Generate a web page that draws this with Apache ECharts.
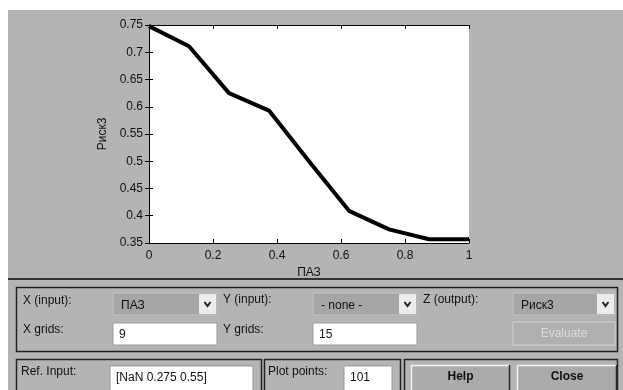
<!DOCTYPE html>
<html>
<head>
<meta charset="utf-8">
<script src="https://cdn.jsdelivr.net/npm/echarts@6/dist/echarts.min.js"></script>
<style>
  html, body { margin: 0; padding: 0; background: #fff; }
  #bg { position: absolute; left: 8px; top: 10px; width: 615px; height: 380px; background: #b4b4b4; }
  #chart { position: absolute; left: 0; top: 0; width: 623px; height: 390px; }
</style>
</head>
<body>
<div id="bg"></div>
<div id="chart"></div>
<script>
// surface viewer: one input (ПАЗ) against the output (Риск3), 9 grid points
const xValues = [0, 0.125, 0.25, 0.375, 0.5, 0.625, 0.75, 0.875, 1];
const riskValues = [0.748, 0.711, 0.625, 0.593, 0.5, 0.409, 0.375, 0.357, 0.357];
const xName = 'ПАЗ';
const yName = 'Риск3';

const font = '12px "Liberation Sans", Arial, sans-serif';
const textColor = '#111';

function label(text, x, y, opts) {
    opts = opts || {};
    return {
        type: 'text', silent: true,
        style: {
            text: text, x: x, y: y,
            font: opts.font || font,
            fill: opts.fill || textColor,
            align: opts.align || 'left',
            verticalAlign: 'middle'
        }
    };
}
function box(x, y, w, h, fill, stroke, lw) {
    return {
        type: 'rect', silent: true,
        shape: { x: x, y: y, width: w, height: h },
        style: { fill: fill, stroke: stroke || null, lineWidth: lw || 1 }
    };
}
function seg(x1, y1, x2, y2, color, lw) {
    return {
        type: 'line', silent: true,
        shape: { x1: x1, y1: y1, x2: x2, y2: y2 },
        style: { stroke: color, lineWidth: lw || 1 }
    };
}
function chevron(x, y) {
    return {
        type: 'polyline', silent: true,
        shape: { points: [[x - 3, y - 2], [x, y + 2], [x + 3, y - 2]] },
        style: { stroke: '#222', lineWidth: 2, fill: null }
    };
}
function dropdown(x, y, w, text) {
    return [
        box(x, y, w, 22, '#a6a6a6', '#c4c4c4', 1),
        box(x + w - 18, y + 1, 17, 20, '#ececec', null),
        chevron(x + w - 9.5, y + 11),
        label(text, x + 8, y + 13)
    ];
}
function inputBox(x, y, w, h, text) {
    return [
        box(x, y, w, h, '#fff', '#999', 1),
        label(text, x + 6, y + 12)
    ];
}
function button(x, y, w, h, text) {
    return [
        box(x, y, w, h, '#ababab', null),
        seg(x, y + 0.5, x + w, y + 0.5, '#f2f2f2', 1.5),
        seg(x + 0.5, y, x + 0.5, y + h, '#f2f2f2', 1.5),
        seg(x + w - 0.5, y, x + w - 0.5, y + h, '#2a2a2a', 1.5),
        label(text, x + w / 2, y + 12, { font: 'bold ' + font, align: 'center' })
    ];
}

const panelGraphics = [].concat(
    // separator between plot area and controls
    [seg(8, 279, 623, 279, '#333', 2)],
    [box(16.5, 287.5, 601, 64, null, '#222', 1.5)],
    [label('X (input):', 23, 301), label('X grids:', 23, 330)],
    dropdown(113, 293, 104, xName),
    inputBox(113, 323, 104, 22, '9'),
    [label('Y (input):', 223, 300), label('Y grids:', 223, 330)],
    dropdown(313, 293, 104, '- none -'),
    inputBox(313, 323, 104, 22, '15'),
    [label('Z (output):', 423, 300)],
    dropdown(513, 293, 102, yName),
    [box(513, 322, 102, 23, '#b0b0b0', '#d4d4d4', 1),
     label('Evaluate', 564, 334, { fill: '#dcdcdc', align: 'center' })],
    // bottom row panels
    [box(16.5, 359.5, 245, 40, null, '#222', 1.5),
     box(264.5, 359.5, 136, 40, null, '#222', 1.5),
     box(404.5, 359.5, 213, 40, null, '#222', 1.5)],
    [label('Ref. Input:', 21, 372)],
    inputBox(110, 366, 143, 30, '[NaN 0.275 0.55]'),
    [label('Plot points:', 268, 372)],
    inputBox(344, 366, 48, 30, '101'),
    button(411, 365, 99, 30, 'Help'),
    button(517, 365, 100, 30, 'Close')
);

const tickFmt = v => String(+(+v).toFixed(2));
const axisLine = { show: true, lineStyle: { color: '#000', width: 1 } };
const tickIn = { show: true, inside: true, length: 4, lineStyle: { color: '#000' } };
const tickLabel = { color: textColor, fontSize: 12, fontFamily: 'Liberation Sans', formatter: tickFmt };

const chart = echarts.init(document.getElementById('chart'), null, { renderer: 'canvas' });
chart.setOption({
    backgroundColor: 'transparent',
    animation: false,
    textStyle: { fontFamily: 'Liberation Sans' },
    grid: { left: 149, top: 25, width: 320, height: 218, show: true, backgroundColor: '#fff', borderWidth: 0 },
    xAxis: [
        {
            type: 'value', min: 0, max: 1, interval: 0.2, position: 'bottom',
            name: xName, nameLocation: 'middle', nameGap: 22,
            nameTextStyle: { color: textColor, fontSize: 12 },
            axisLine: axisLine, axisTick: tickIn, splitLine: { show: false },
            axisLabel: Object.assign({ margin: 7 }, tickLabel)
        },
        {
            type: 'value', min: 0, max: 1, interval: 0.2, position: 'top',
            axisLine: axisLine, axisTick: tickIn, splitLine: { show: false },
            axisLabel: { show: false }
        }
    ],
    yAxis: [
        {
            type: 'value', min: 0.35, max: 0.75, interval: 0.05, position: 'left',
            name: yName, nameLocation: 'middle', nameGap: 38, nameRotate: 90,
            nameTextStyle: { color: textColor, fontSize: 12 },
            axisLine: axisLine, axisTick: tickIn, splitLine: { show: false },
            axisLabel: Object.assign({ margin: 6 }, tickLabel)
        },
        {
            type: 'value', min: 0.35, max: 0.75, interval: 0.05, position: 'right',
            axisLine: axisLine, axisTick: tickIn, splitLine: { show: false },
            axisLabel: { show: false }
        }
    ],
    series: [
        {
            type: 'line',
            xAxisIndex: 0, yAxisIndex: 0,
            data: xValues.map((x, i) => [x, riskValues[i]]),
            symbol: 'none',
            clip: false,
            lineStyle: { color: '#000', width: 4, join: 'round' }
        }
    ],
    graphic: panelGraphics
});
</script>
</body>
</html>
